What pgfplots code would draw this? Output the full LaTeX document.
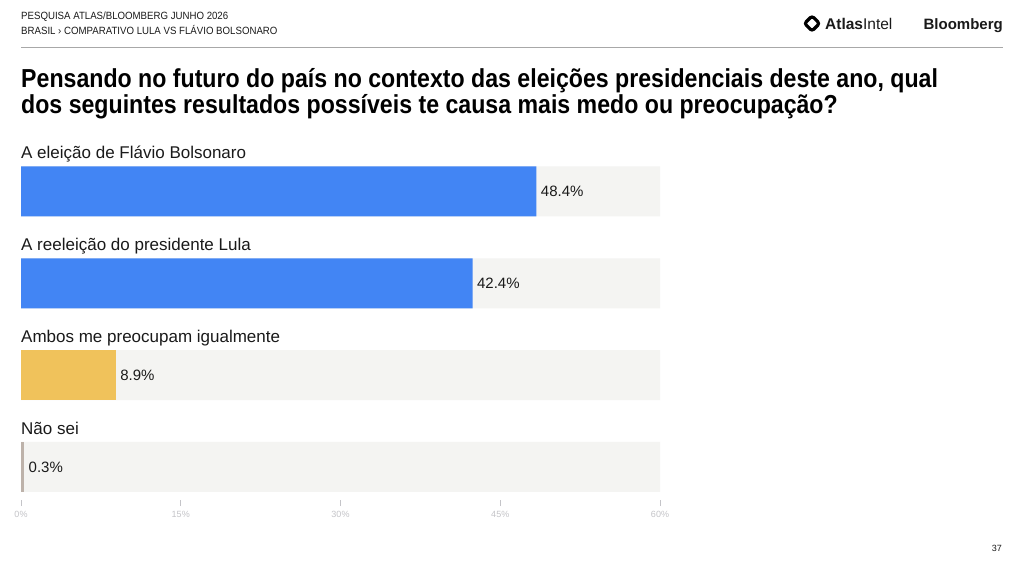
\documentclass[border=0pt]{standalone}
\usepackage{fontspec}
\setmainfont{Liberation Sans}
\newfontfamily\condfont[FakeStretch=0.89]{Liberation Sans}
\newfontfamily\hdrfont[FakeStretch=0.92]{Liberation Sans}
\usepackage{pgfplots}
\pgfplotsset{compat=1.18}
\definecolor{barblue}{HTML}{4285F4}
\definecolor{baryellow}{HTML}{F0C25B}
\definecolor{bargray}{HTML}{BDB2AA}
\definecolor{track}{HTML}{F4F4F2}
\definecolor{txt}{HTML}{1A1A1A}
\definecolor{ticktxt}{HTML}{C4C4C8}
\definecolor{rule}{HTML}{A8A8A8}
\begin{document}
\begin{tikzpicture}[x=1pt,y=1pt]
\useasboundingbox (0,0) rectangle (1024,571);
\fill[white] (0,0) rectangle (1024,571);
% header
\node[anchor=base west, inner sep=0, text=txt] at (21,551) {\hdrfont\fontsize{10.5}{12}\selectfont PESQUISA ATLAS/BLOOMBERG JUNHO 2026};
\node[anchor=base west, inner sep=0, text=txt] at (21,536) {\hdrfont\fontsize{10.5}{12}\selectfont BRASIL › COMPARATIVO LULA VS FLÁVIO BOLSONARO};
\draw[rule, line width=1pt] (21,523) -- (1003,523);
% logos
\draw[black, line width=3.2pt, rounded corners=2.5pt] (812,555) -- (819.5,547.5) -- (812,540) -- (804.5,547.5) -- cycle;
\node[anchor=base west, inner sep=0, text=txt] at (825,541) {\fontsize{15.5}{17}\selectfont \textbf{Atlas}Intel};
\node[anchor=base east, inner sep=0, text=txt] at (1003,541) {\fontsize{15}{17}\selectfont\bfseries Bloomberg};
% title
\node[anchor=base west, inner sep=0, text=black] at (21,483) {\condfont\bfseries\fontsize{26}{30}\selectfont Pensando no futuro do país no contexto das eleições presidenciais deste ano, qual};
\node[anchor=base west, inner sep=0, text=black] at (21,457) {\condfont\bfseries\fontsize{26}{30}\selectfont dos seguintes resultados possíveis te causa mais medo ou preocupação?};
% page number
\node[anchor=base east, inner sep=0, text=txt] at (1002,20) {\fontsize{9}{11}\selectfont 37};
\begin{axis}[
  at={(21pt,76.6pt)}, anchor=south west,
  scale only axis, width=639pt, height=348.8pt,
  xmin=0, xmax=60, ymin=-0.5, ymax=3.3, y dir=reverse,
  axis line style={draw=none},
  ytick=\empty,
  xtick={0,15,30,45,60},
  xticklabels={0\%,15\%,30\%,45\%,60\%},
  tick align=outside, tick pos=bottom,
  major tick length=6pt,
  xtick style={draw=ticktxt, line width=0.6pt, yshift=-5.6pt},
  xticklabel style={font=\fontsize{9}{10}\selectfont, text=ticktxt, yshift=-7pt},
  clip=false,
  /pgf/number format/assume math mode=true,
  xbar, bar width=50pt, bar shift=0pt,
  nodes near coords={\pgfmathprintnumber[fixed,precision=1,fixed zerofill,assume math mode=true]{\pgfplotspointmeta}\%},
  nodes near coords style={anchor=west, text=txt, font=\fontsize{15}{17}\selectfont, xshift=1pt},
]
\addplot[fill=track, draw=none, nodes near coords={}] coordinates {(60,0) (60,1) (60,2) (60,3)};
\addplot[fill=barblue, draw=none] coordinates {(48.4,0) (42.4,1)};
\addplot[fill=baryellow, draw=none] coordinates {(8.9,2)};
\addplot[fill=bargray, draw=none] coordinates {(0.3,3)};
\node[anchor=base west, inner sep=0, text=txt, yshift=32.5pt] at (axis cs:0,0) {\fontsize{17}{19}\selectfont A eleição de Flávio Bolsonaro};
\node[anchor=base west, inner sep=0, text=txt, yshift=32.5pt] at (axis cs:0,1) {\fontsize{17}{19}\selectfont A reeleição do presidente Lula};
\node[anchor=base west, inner sep=0, text=txt, yshift=32.5pt] at (axis cs:0,2) {\fontsize{17}{19}\selectfont Ambos me preocupam igualmente};
\node[anchor=base west, inner sep=0, text=txt, yshift=32.5pt] at (axis cs:0,3) {\fontsize{17}{19}\selectfont Não sei};
\end{axis}
\end{tikzpicture}
\end{document}
